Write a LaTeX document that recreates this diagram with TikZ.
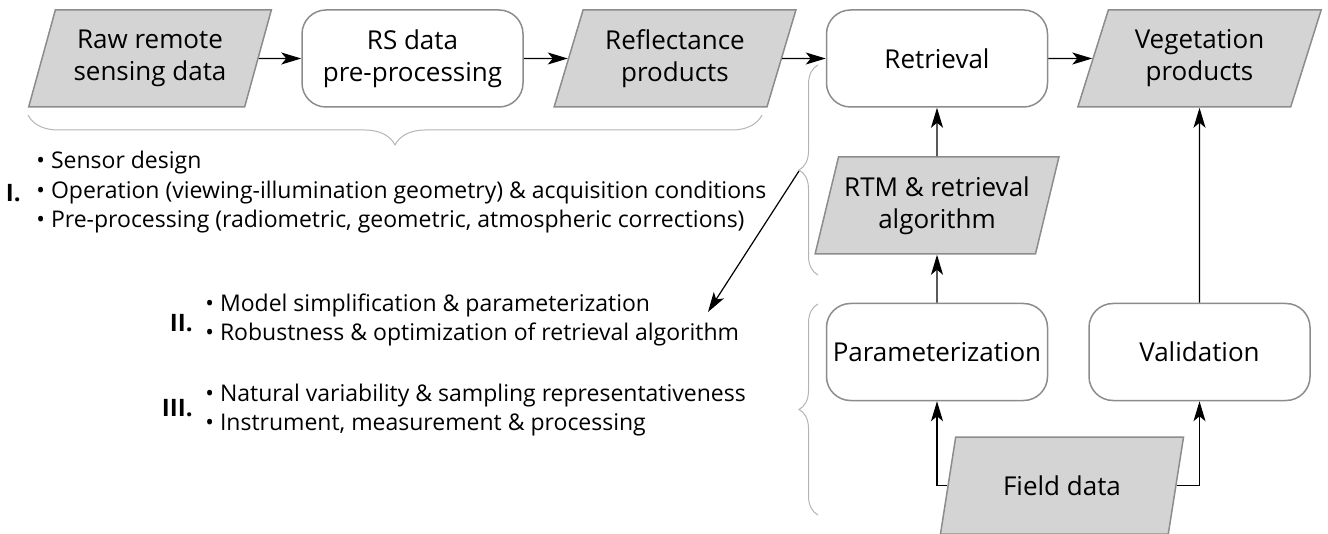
\documentclass[tikz,border=0pt]{standalone}
\usepackage{fontspec}
\setmainfont{Open Sans}
\usetikzlibrary{shapes.geometric,arrows.meta,decorations.pathreplacing}
\definecolor{boxgray}{HTML}{8C8C8C}
\definecolor{datafill}{HTML}{D4D4D4}
\definecolor{bracegray}{HTML}{B4B4B4}
\begin{document}
\begin{tikzpicture}[x=0.5pt,y=-0.5pt,
    proc/.style={draw=boxgray,line width=0.75pt,rounded corners=12pt,minimum width=110.5pt,minimum height=48.5pt,
        align=center,inner sep=1pt,font=\fontsize{13}{16}\selectfont},
    datum/.style={trapezium,trapezium left angle=70,trapezium right angle=110,trapezium stretches=true,
        draw=boxgray,fill=datafill,line width=0.75pt,minimum width=122pt,minimum height=48.5pt,
        align=center,inner sep=1pt,font=\fontsize{13}{16}\selectfont},
    flow/.style={-{Stealth[length=10pt,width=6pt,inset=2.5pt]},line width=0.6pt},
    grp/.style={draw=bracegray,line width=0.5pt,decorate,decoration={brace,amplitude=#1}},
    note/.style={anchor=west,align=left,inner sep=0pt,font=\fontsize{11.5}{14.75}\selectfont},
    tag/.style={anchor=east,inner sep=0pt,font=\bfseries\fontsize{12}{14}\selectfont}]
    \useasboundingbox (0,0) rectangle (1328,534);
    % top row
    \node[datum] (raw) at (150,58.5) {Raw remote\\sensing data};
    \node[proc] (rs) at (412.5,58.5) {RS data\\pre-processing};
    \node[datum] (refl) at (675,58.5) {Reflectance\\products};
    \node[proc] (retr) at (937,58.5) {Retrieval};
    \node[datum] (veg) at (1199.5,58.5) {Vegetation\\products};
    % right column
    \node[datum] (rtm) at (937,205.5) {RTM \& retrieval\\algorithm};
    \node[proc] (param) at (937,352) {Parameterization};
    \node[proc] (valid) at (1199.5,352) {Validation};
    \node[datum] (field) at (1062,485.5) {Field data};
    \draw[flow] (raw) -- (rs);
    \draw[flow] (rs) -- (refl);
    \draw[flow] (refl) -- (retr);
    \draw[flow] (retr) -- (veg);
    \draw[flow] (rtm) -- (retr);
    \draw[flow] (param) -- (rtm);
    \draw[flow] (valid) -- (veg);
    \draw[flow] (field) -| (param);
    \draw[flow] (field) -| (valid);
    % braces
    \draw[grp=15pt] (762,115) -- (28,115);
    \draw[grp=9.5pt] (818,275) -- (818,65);
    \draw[grp=9.5pt] (818,515) -- (818,304);
    % uncertainty sources
    \node[tag] (labI) at (21,193) {I.};
    \node[note] (listI) at (36,192.5) {• Sensor design\\• Operation (viewing-illumination geometry) \& acquisition conditions\\• Pre-processing (radiometric, geometric, atmospheric corrections)};
    \node[tag] (labII) at (193,323) {II.};
    \node[note] (listII) at (205,320) {• Model simplification \& parameterization\\• Robustness \& optimization of retrieval algorithm};
    \node[tag] (labIII) at (193,408) {III.};
    \node[note] (listIII) at (205,410) {• Natural variability \& sampling representativeness\\• Instrument, measurement \& processing};
    \coordinate (btip) at (799,171);
    \coordinate (listend) at (708,312);
    \draw[flow] (btip) -- (listend);
\end{tikzpicture}
\end{document}
